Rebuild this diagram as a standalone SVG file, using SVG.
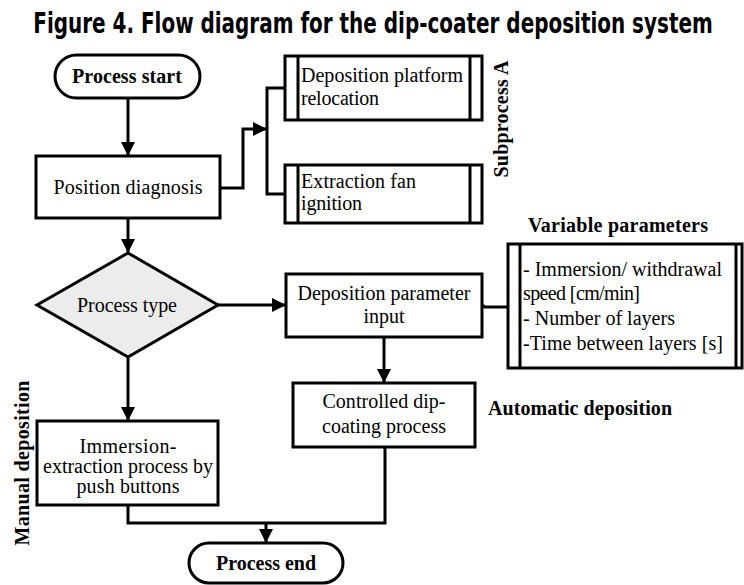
<svg xmlns="http://www.w3.org/2000/svg" width="744" height="585" viewBox="0 0 744 585">
<style>
.box{fill:#fff;stroke:#000;stroke-width:3}
.ln{fill:none;stroke:#000;stroke-width:3}
.t{font-family:"Liberation Serif","Times New Roman",serif;font-size:20px;fill:#000}
.c{text-anchor:middle}
.b{font-weight:bold}
.title{font-family:"DejaVu Sans Condensed","DejaVu Sans",sans-serif;font-stretch:condensed;font-weight:bold;font-size:28px;fill:#000}
</style>
<defs>
<marker id="ah" markerUnits="userSpaceOnUse" markerWidth="14" markerHeight="14" refX="13" refY="7" orient="auto">
<path d="M0,0 L14,7 L0,14 Z" fill="#000"/>
</marker>
</defs>
<rect width="744" height="585" fill="#fff"/>
<g id="title" transform="translate(373,33) scale(0.75,1)">
<text class="title" x="0" y="0" text-anchor="middle" textLength="906" lengthAdjust="spacingAndGlyphs">Figure 4. Flow diagram for the dip-coater deposition system</text>
</g>

<g id="connectors">
<path class="ln" d="M128,98 V155" marker-end="url(#ah)"/>
<path class="ln" d="M220,188 H243 V129 H266" marker-end="url(#ah)"/>
<path class="ln" d="M285,88 H267 V194 H285"/>
<path class="ln" d="M128,218 V252" marker-end="url(#ah)"/>
<path class="ln" d="M217,305 H285" marker-end="url(#ah)"/>
<path class="ln" d="M482,305 L485,307 H508"/>
<path class="ln" d="M384,337 V382" marker-end="url(#ah)"/>
<path class="ln" d="M128,356 V420" marker-end="url(#ah)"/>
<path class="ln" d="M128,505 V523 H385 V447"/>
<path class="ln" d="M266,523 V542" marker-end="url(#ah)"/>
</g>

<g id="start">
<rect class="box" x="55" y="55" width="145" height="43" rx="21.5"/>
<text class="t b c" x="127" y="83" textLength="110">Process start</text>
</g>

<g id="position">
<rect class="box" x="36" y="156" width="184" height="62"/>
<text class="t c" x="128" y="194" textLength="149">Position diagnosis</text>
</g>

<g id="sub1">
<rect class="box" x="285" y="56" width="197" height="64"/>
<path class="ln" d="M298,56 V120 M470,56 V120"/>
<text class="t" x="301" y="82" textLength="162">Deposition platform</text>
<text class="t" x="301" y="105" textLength="78">relocation</text>
</g>

<g id="sub2">
<rect class="box" x="285" y="165" width="197" height="58"/>
<path class="ln" d="M298,165 V223 M470,165 V223"/>
<text class="t" x="301" y="188" textLength="115">Extraction fan</text>
<text class="t" x="301" y="210" textLength="61">ignition</text>
</g>

<g id="subprocessA">
<text class="t b c" transform="translate(508,119) rotate(-90)" textLength="117">Subprocess A</text>
</g>

<g id="decision">
<polygon points="128,253 218,305 128,357 37,305" fill="#ececec" stroke="#000" stroke-width="3"/>
<text class="t c" x="127" y="312" textLength="100">Process type</text>
</g>

<g id="depparam">
<rect class="box" x="286" y="274" width="196" height="63"/>
<text class="t c" x="384" y="300" textLength="173">Deposition parameter</text>
<text class="t c" x="384" y="323">input</text>
</g>

<g id="variable">
<text class="t b" x="528" y="232" textLength="180">Variable parameters</text>
<rect class="box" x="508" y="244" width="234" height="124"/>
<path class="ln" d="M520,244 V368 M736,244 V368"/>
<text class="t" x="523" y="276" textLength="199">- Immersion/ withdrawal</text>
<text class="t" x="523" y="300" textLength="117">speed [cm/min]</text>
<text class="t" x="523" y="325" textLength="152">- Number of layers</text>
<text class="t" x="523" y="350" textLength="200">-Time between layers [s]</text>
</g>

<g id="controlled">
<rect class="box" x="293" y="383" width="182" height="64"/>
<text class="t c" x="384" y="408" textLength="123">Controlled dip-</text>
<text class="t c" x="384" y="433" textLength="124">coating process</text>
</g>

<g id="automatic">
<text class="t b" x="488" y="415" textLength="184">Automatic deposition</text>
</g>

<g id="immersion">
<rect class="box" x="37" y="421" width="181" height="84"/>
<text class="t c" x="128" y="453" textLength="97">Immersion-</text>
<text class="t c" x="128" y="473" textLength="170">extraction process by</text>
<text class="t c" x="128" y="493" textLength="103">push buttons</text>
</g>

<g id="manual">
<text class="t b c" transform="translate(29,463) rotate(-90)" textLength="165">Manual deposition</text>
</g>

<g id="end">
<rect class="box" x="189" y="543" width="154" height="40" rx="20"/>
<text class="t b c" x="266" y="570" textLength="100">Process end</text>
</g>
</svg>
